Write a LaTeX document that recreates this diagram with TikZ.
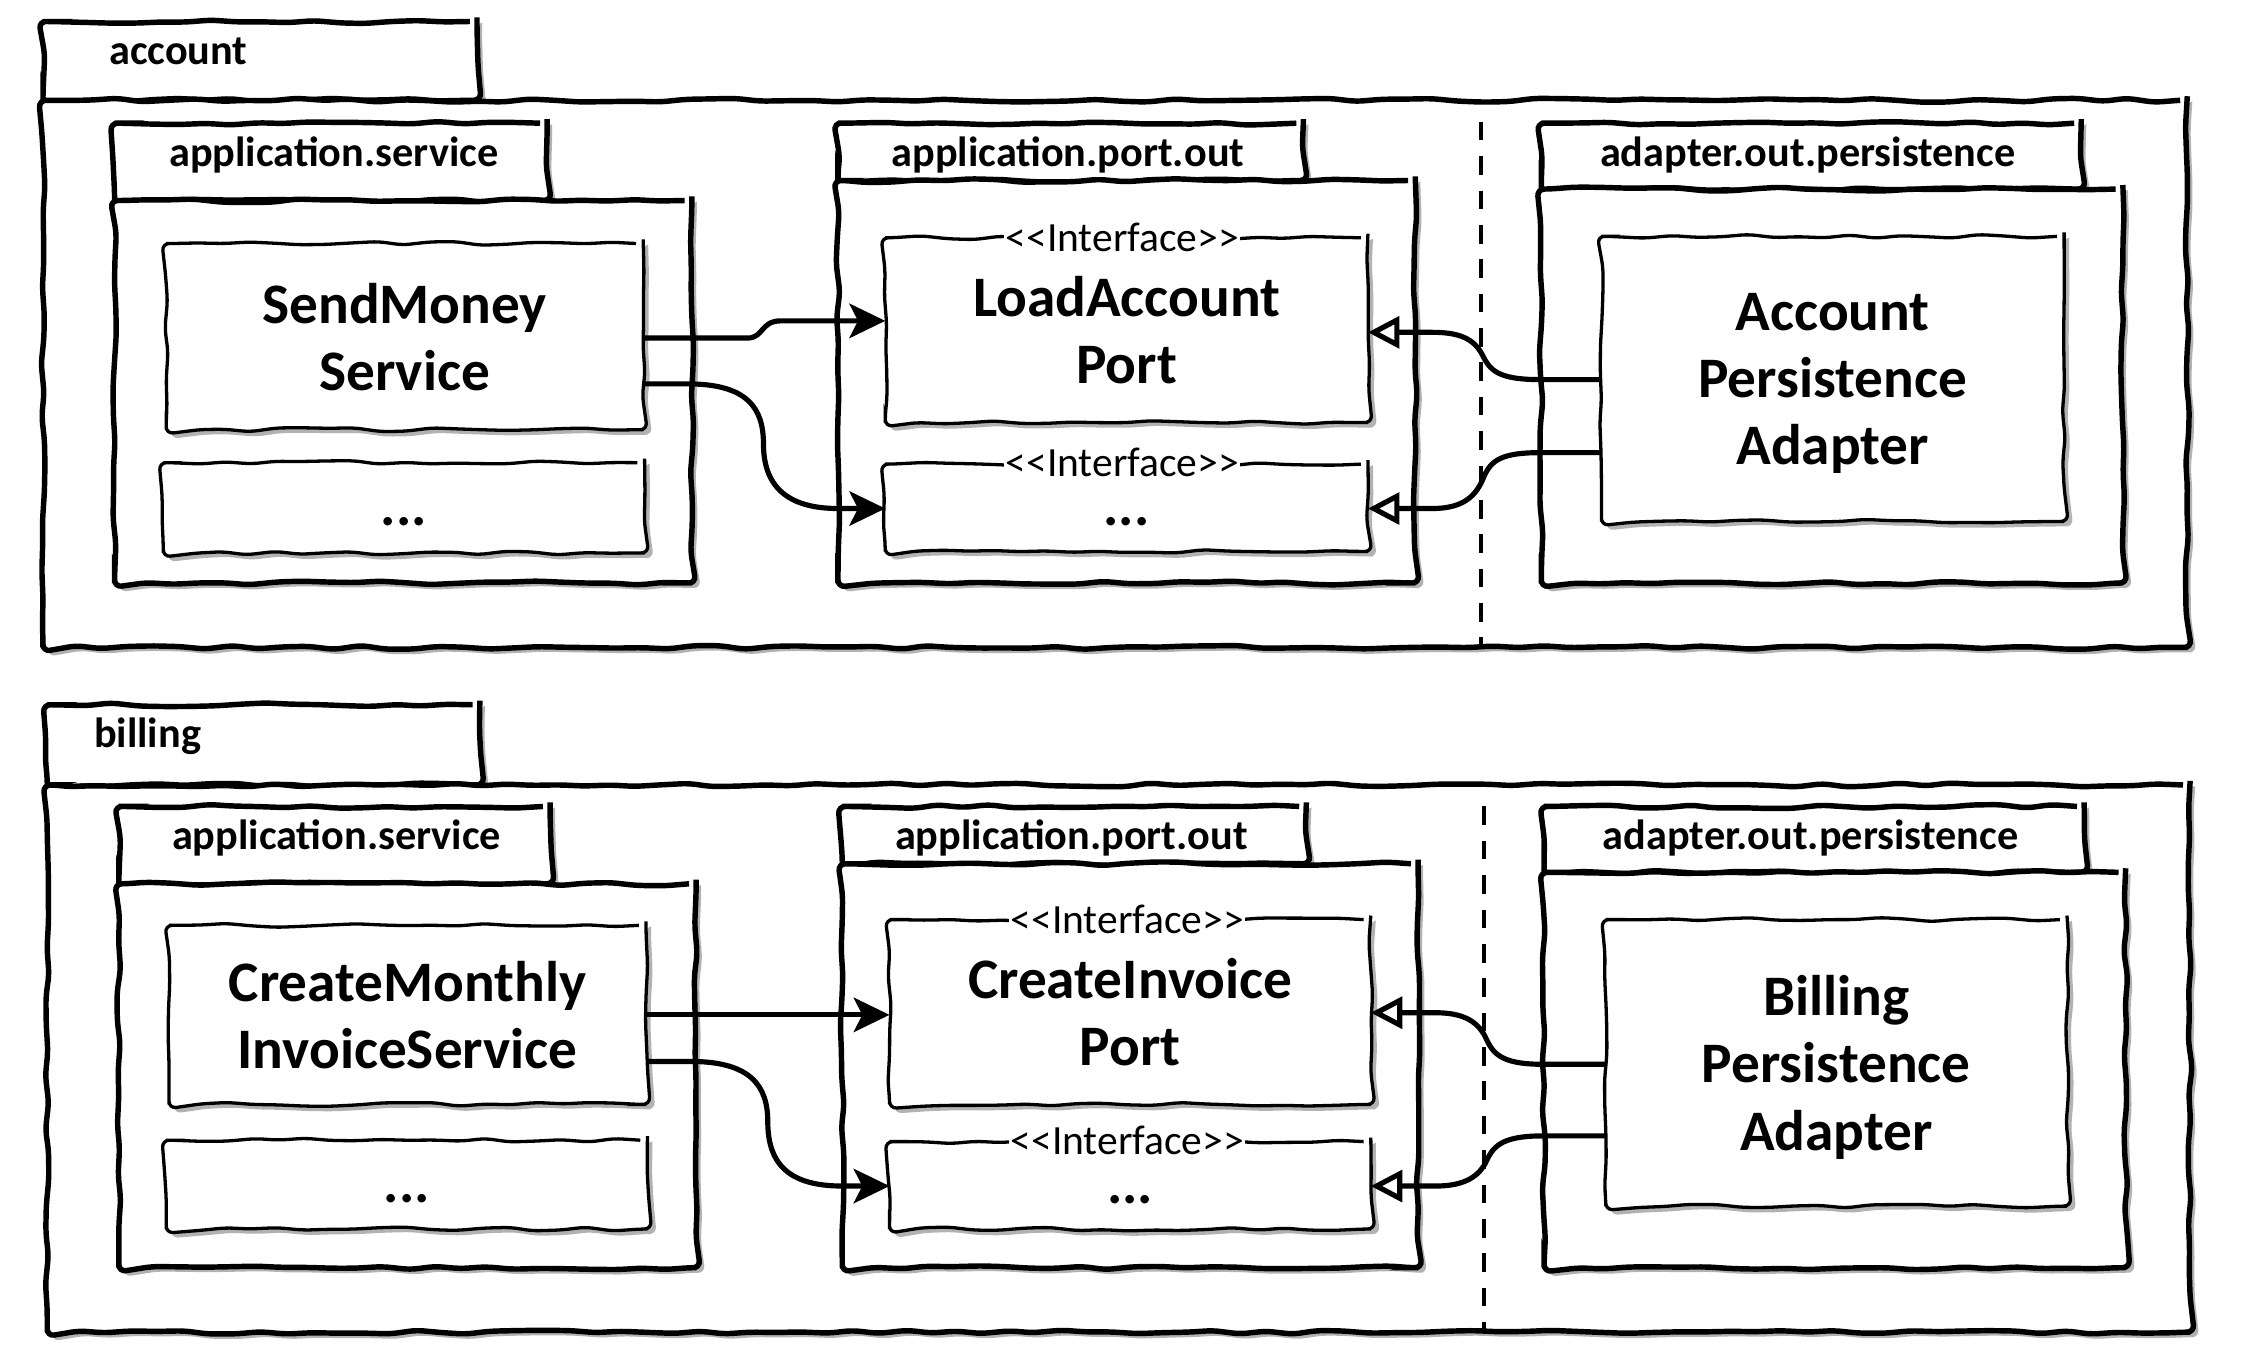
\documentclass[tikz,border=0pt]{standalone}
\usepackage{fontspec}
\setmainfont{Carlito}
\usetikzlibrary{decorations.pathmorphing,shadows,arrows.meta}
\newcommand\BigLbl{\fontsize{40}{47}\selectfont\bfseries}
\newcommand\TabLbl{\fontsize{29.5}{35}\selectfont\bfseries}
\newcommand\IfLbl{\fontsize{29}{34}\selectfont}
\newcommand\IfTxt{<\kern0pt<Interface>\kern0pt>}
\tikzset{
  sketch/.style={decorate, decoration={random steps, segment length=18pt, amplitude=1.4pt}, rounded corners=5pt},
  shadowed/.style={drop shadow={shadow xshift=3.5pt, shadow yshift=-3.5pt, opacity=0.3, fill=black}},
  pkgbox/.style={draw, fill=white, line width=3.8pt, sketch, shadowed, inner sep=0pt, outer sep=0pt},
  clsbox/.style={draw, fill=white, line width=2.3pt, sketch, shadowed, inner sep=0pt, outer sep=0pt, align=center, font=\BigLbl, text depth=0pt},
  dotslbl/.style={font=\BigLbl, inner sep=0pt},
  tablabel/.style={anchor=base, font=\TabLbl, inner sep=0pt},
  iflabel/.style={fill=white, inner sep=1pt, font=\IfLbl},
  conn/.style={line width=3.6pt},
  uses/.style={conn, -{Stealth[length=25pt,width=24pt,inset=6pt]}},
  impl/.style={conn, -{Triangle[open,length=22pt,width=22pt]}},
  sepline/.style={line width=3pt, dash pattern=on 13pt off 11pt},
}
\begin{document}
\begin{tikzpicture}[x=1pt,y=-1pt]
\pgfmathsetseed{7}
\useasboundingbox[fill=white] (0,0) rectangle (1568,954);

% ================= account =================
\node[pkgbox, minimum width=303, minimum height=55] (accTab) at (181.5,42.5) {};
\node[pkgbox, minimum width=1497, minimum height=382] (accMain) at (778.5,261) {};
\node[tablabel] (accLbl) at (124.5,45) {account};

\node[pkgbox, minimum width=302, minimum height=54] (asTab) at (231,113) {};
\node[pkgbox, minimum width=403, minimum height=267] (asMain) at (281.5,273.5) {};
\node[tablabel] (asLbl) at (233,116) {application.service};
\node[clsbox, minimum width=333, minimum height=130] (sms) at (282.5,235) {SendMoney\\Service};
\node[clsbox, minimum width=336, minimum height=63] (asDots) at (282,354.5) {};
\node[dotslbl] (asDotsT) at ([yshift=-10pt]asDots.center) {...};

\node[pkgbox, minimum width=325, minimum height=40] (poTab) at (747.5,106) {};
\node[pkgbox, minimum width=403, minimum height=281] (poMain) at (786.5,266.5) {};
\node[tablabel] (poLbl) at (745.5,116) {application.port.out};
\node[clsbox, minimum width=337, minimum height=129] (lap) at (786.5,230.5) {LoadAccount\\Port};
\node[clsbox, minimum width=337, minimum height=61] (poDots) at (786.5,354.5) {};
\node[dotslbl] (poDotsT) at ([yshift=-10pt]poDots.center) {...};
\node[iflabel] (lapIf) at ([xshift=-3pt]lap.north) {\IfTxt};
\node[iflabel] (poDotsIf) at ([xshift=-3pt,yshift=1pt]poDots.north) {\IfTxt};

\node[pkgbox, minimum width=377, minimum height=46] (apTab) at (1264.5,109) {};
\node[pkgbox, minimum width=406, minimum height=275] (apMain) at (1279,269.5) {};
\node[tablabel] (apLbl) at (1262,116) {adapter.out.persistence};
\node[clsbox, minimum width=323, minimum height=199] (apa) at (1279.5,264.5) {Account\\Persistence\\Adapter};

\coordinate (dA1) at (1034,85);
\coordinate (dA2) at (1034,450);
\draw[sepline] (dA1) -- (dA2);

\draw[uses] (sms.east |- 0,236) -- (522,236) .. controls (533,236) and (531,224) .. (545,224) -- (lap.west |- 0,224);
\draw[uses] (sms.east |- 0,268) -- (480,268) .. controls (522,268) and (533,285) .. (533,310) .. controls (533,338) and (548,355) .. (585,355) -- (poDots.west |- 0,355);
\draw[impl] (apa.west |- 0,265) -- (1075,265) .. controls (1045,265) and (1040,258) .. (1035,248) .. controls (1029,236) and (1018,232) .. (1000,232) -- (lap.east |- 0,232);
\draw[impl] (apa.west |- 0,316) -- (1075,316) .. controls (1045,316) and (1040,323) .. (1035,335) .. controls (1029,349) and (1018,355) .. (1000,355) -- (poDots.east |- 0,355);

% ================= billing =================
\node[pkgbox, minimum width=302, minimum height=56] (bilTab) at (184,520) {};
\node[pkgbox, minimum width=1496, minimum height=382] (bilMain) at (781,739) {};
\node[tablabel] (bilLbl) at (103,522) {billing};

\node[pkgbox, minimum width=301, minimum height=54] (bsTab) at (233.5,590) {};
\node[pkgbox, minimum width=403, minimum height=268] (bsMain) at (284.5,751) {};
\node[tablabel] (bsLbl) at (235,593) {application.service};
\node[clsbox, minimum width=333, minimum height=125] (cmis) at (284.5,708.5) {CreateMonthly\\InvoiceService};
\node[clsbox, minimum width=336, minimum height=62] (bsDots) at (284,827) {};
\node[dotslbl] (bsDotsT) at ([yshift=-10pt]bsDots.center) {...};

\node[pkgbox, minimum width=324, minimum height=40] (bpTab) at (750,583) {};
\node[pkgbox, minimum width=402, minimum height=282] (bpMain) at (789,744) {};
\node[tablabel] (bpLbl) at (748,593) {application.port.out};
\node[clsbox, minimum width=336, minimum height=129] (cip) at (789,706.5) {CreateInvoice\\Port};
\node[clsbox, minimum width=336, minimum height=61] (bpDots) at (789,827.5) {};
\node[dotslbl] (bpDotsT) at ([yshift=-10pt]bpDots.center) {...};
\node[iflabel] (cipIf) at ([xshift=-2pt]cip.north) {\IfTxt};
\node[iflabel] (bpDotsIf) at ([xshift=-2pt,yshift=1pt]bpDots.north) {\IfTxt};

\node[pkgbox, minimum width=377, minimum height=46] (baTab) at (1266.5,586) {};
\node[pkgbox, minimum width=406, minimum height=276] (baMain) at (1281,747) {};
\node[tablabel] (baLbl) at (1264,593) {adapter.out.persistence};
\node[clsbox, minimum width=322, minimum height=200] (bpa) at (1282,742) {Billing\\Persistence\\Adapter};

\coordinate (dB1) at (1036,563);
\coordinate (dB2) at (1036,928);
\draw[sepline] (dB1) -- (dB2);

\draw[uses] (cmis.east |- 0,708.5) -- (cip.west |- 0,708.5);
\draw[uses] (cmis.east |- 0,741) -- (482,741) .. controls (524,741) and (536,758) .. (536,783) .. controls (536,812) and (550,828) .. (588,828) -- (bpDots.west |- 0,828);
\draw[impl] (bpa.west |- 0,743) -- (1077,743) .. controls (1047,743) and (1042,735) .. (1037,724) .. controls (1031,712) and (1020,707) .. (1002,707) -- (cip.east |- 0,707);
\draw[impl] (bpa.west |- 0,793) -- (1077,793) .. controls (1047,793) and (1042,801) .. (1037,812) .. controls (1031,823) and (1020,828) .. (1002,828) -- (bpDots.east |- 0,828);
\end{tikzpicture}
\end{document}
